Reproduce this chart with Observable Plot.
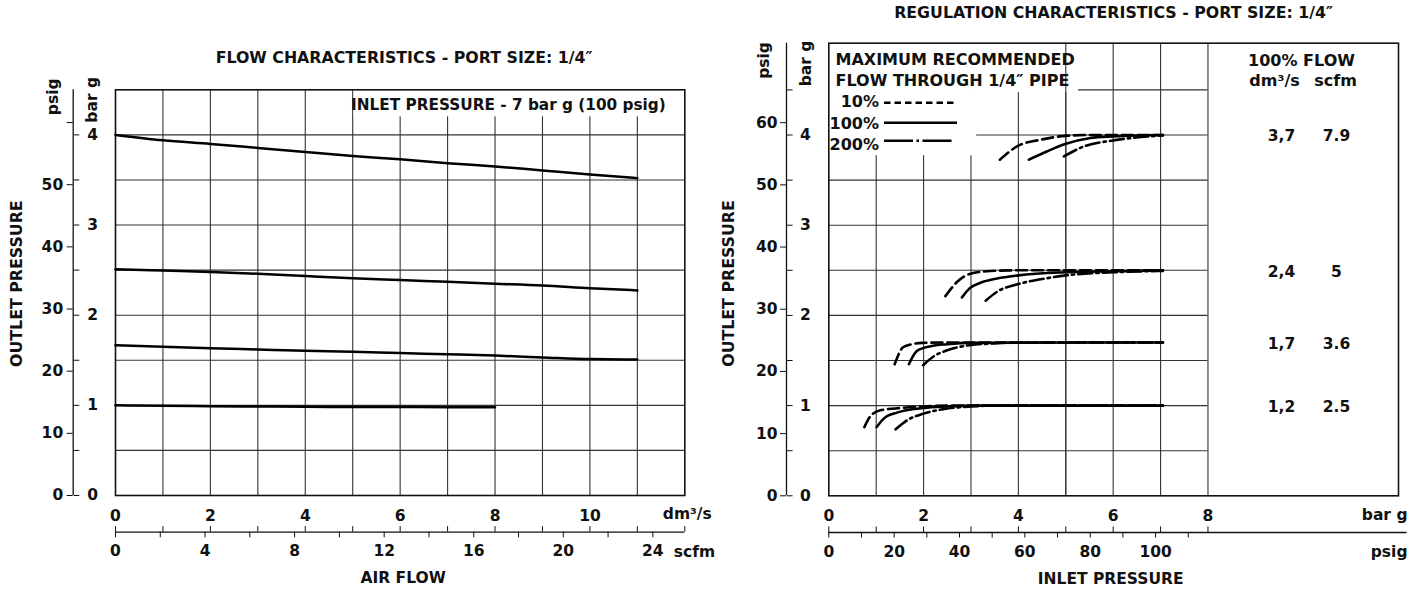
<!DOCTYPE html>
<html><head><meta charset="utf-8">
<script src="https://cdn.jsdelivr.net/npm/d3@7"></script>
<script src="https://cdn.jsdelivr.net/npm/@observablehq/plot@0.6"></script>
<style>
body{margin:0;background:#fff;}
#wrap{position:relative;width:1415px;height:592px;overflow:hidden;font-family:"DejaVu Sans",sans-serif;font-weight:bold;color:#111;}
#wrap svg{position:absolute;top:0;overflow:visible;}
</style></head><body><div id="wrap"></div>
<script>
// ---------- unit conversions ----------
const PSI_PER_BAR = 14.5038;
const SCFM_PER_DM3S = 2.1189;

// ---------- LEFT: flow characteristics (outlet bar g vs air flow dm3/s) ----------
const flowX = [0,1,2,3,4,5,6,7,8,9,10,11];
const flowOutlet4  = [4.00,3.94,3.90,3.855,3.81,3.765,3.73,3.685,3.65,3.605,3.56,3.52];
const flowOutlet25 = [2.51,2.495,2.48,2.46,2.435,2.41,2.39,2.37,2.35,2.33,2.30,2.275];
const flowOutlet17 = [1.667,1.650,1.634,1.620,1.606,1.595,1.580,1.567,1.552,1.532,1.513,1.508];
const flowXLow = [0,1,2,3,4,5,6,7,8];
const flowOutlet1  = [1.000,0.995,0.990,0.987,0.984,0.982,0.981,0.980,0.980];

const leftTitle = "FLOW CHARACTERISTICS - PORT SIZE: 1/4\u2033";
const inletNote = "INLET PRESSURE - 7 bar g (100 psig)";
const dmTickLabels = [0,2,4,6,8,10];
const scfmTicks = [0,2,4,6,8,10,12,14,16,18,20,22,24];
const scfmLabels = [0,4,8,12,16,20,24];
const psigTicksLeft = [0,10,20,30,40,50,60];
const psigLabelsLeft = [0,10,20,30,40,50];
const barTicksLeft = [0,0.5,1,1.5,2,2.5,3,3.5,4];

// ---------- RIGHT: regulation characteristics (outlet vs inlet, bar g) ----------
const regLevels = [4.0, 2.5, 1.7, 1.0];
const regFlowDm3 = ["3,7","2,4","1,7","1,2"];
const regFlowScfm = ["7.9","5","3.6","2.5"];
// [inlet bar, outlet bar] per level
const reg10 = [
  [[3.61,3.726],[3.97,3.873],[4.47,3.948],[4.99,3.99],[5.5,4.0],[7.05,4.0]],
  [[2.46,2.214],[2.71,2.373],[2.97,2.459],[3.41,2.492],[4.0,2.5],[7.05,2.5]],
  [[1.39,1.459],[1.58,1.651],[1.97,1.696],[2.5,1.70],[7.05,1.70]],
  [[0.75,0.762],[0.88,0.884],[1.09,0.948],[1.51,0.973],[2.0,0.99],[2.5,1.0],[7.05,1.0]]
];
const reg100 = [
  [[4.22,3.726],[4.61,3.82],[4.99,3.90],[5.52,3.967],[6.0,3.985],[7.05,4.0]],
  [[2.81,2.20],[2.97,2.30],[3.2,2.362],[3.55,2.41],[4.0,2.444],[5.0,2.478],[6.0,2.49],[7.05,2.5]],
  [[1.69,1.459],[1.86,1.607],[2.15,1.659],[2.5,1.681],[3.0,1.696],[7.05,1.70]],
  [[1.01,0.762],[1.16,0.856],[1.44,0.922],[2.0,0.973],[2.5,0.99],[3.0,1.0],[7.05,1.0]]
];
const reg200 = [
  [[4.96,3.763],[5.38,3.873],[6.0,3.94],[6.58,3.978],[7.05,3.995]],
  [[3.31,2.163],[3.55,2.262],[4.0,2.348],[4.47,2.40],[5.0,2.444],[6.0,2.478],[7.05,2.493]],
  [[1.99,1.448],[2.22,1.548],[2.5,1.614],[2.97,1.67],[3.5,1.69],[4.0,1.70],[7.05,1.70]],
  [[1.41,0.737],[1.65,0.837],[2.0,0.911],[2.5,0.967],[3.0,0.99],[3.5,1.0],[7.05,1.0]]
];
const rightTitle = "REGULATION CHARACTERISTICS - PORT SIZE: 1/4\u2033";
const legendHead = ["MAXIMUM RECOMMENDED", "FLOW THROUGH 1/4\u2033 PIPE"];
const legendNames = ["10%","100%","200%"];
const barTicksRightLabels = [0,2,4,6,8];
const barTicksRight = [0,1,2,3,4,5,6,7,8];
const psigTicksRight = [0,10,20,30,40,50,60,70,80,90,100,110];
const psigLabelsRight = [0,20,40,60,80,100];
const psigTicksRightY = [0,10,20,30,40,50,60];
const barTicksRightY = [0,0.5,1,1.5,2,2.5,3,3.5,4,4.5];

// ---------- styling ----------
const INK = "#111";
const GRID = "#333";
const baseStyle = {fontFamily:"'DejaVu Sans', sans-serif", fontWeight:"bold", fontSize:"15.5px", color:INK, background:"transparent", overflow:"visible"};
const DASH10 = "11,5", DASH200 = "14,4,2.5,4";
const TITLE = 15.8;

const wrap = document.getElementById("wrap");

// ===== LEFT PLOT =====
{
  const W = 700, ML = 115, MR = 15.7, MT = 89.3, MB = 97;
  const axisX = 72.7; // position of the vertical pressure axis line
  const rows = [
    ...flowX.map((x,i)=>({x, y:flowOutlet4[i], s:"4"})),
    ...flowX.map((x,i)=>({x, y:flowOutlet25[i], s:"2.5"})),
    ...flowX.map((x,i)=>({x, y:flowOutlet17[i], s:"1.7"})),
    ...flowXLow.map((x,i)=>({x, y:flowOutlet1[i], s:"1"}))
  ];
  const noteBox = [{x1:5.03, x2:12, y1:4.2, y2:4.5}];
  const plot = Plot.plot({
    width: W, height: 592, marginLeft: ML, marginRight: MR, marginTop: MT, marginBottom: MB,
    x: {domain:[0,12], label:null},
    y: {domain:[0,4.5], label:null},
    style: baseStyle,
    marks: [
      Plot.ruleX(d3.range(1,12), {stroke:GRID, strokeWidth:1.1}),
      Plot.ruleY(d3.range(0.5,4.5,0.5), {stroke:GRID, strokeWidth:1.1}),
      Plot.rect(noteBox, {x1:"x1", x2:"x2", y1:"y1", y2:"y2", fill:"white"}),
      Plot.text([inletNote], {frameAnchor:"top-right", textAnchor:"end", lineAnchor:"middle", dx:-19, dy:15, fontSize:15.3, fill:INK}),
      Plot.frame({stroke:INK, strokeWidth:1.6}),
      Plot.line(rows, {x:"x", y:"y", z:"s", stroke:"#000", strokeWidth:2.5, curve:"monotone-x"}),
      // vertical pressure axes
      Plot.ruleX([0], {y1:0, y2:4.5, dx: axisX-ML, stroke:INK, strokeWidth:1.3}),
      Plot.axisY(psigTicksLeft.map(p=>p/PSI_PER_BAR), {anchor:"left", dx: axisX-ML, tickSize:6, tickPadding:4, label:null,
        tickFormat: d => { const p = Math.round(d*PSI_PER_BAR); return psigLabelsLeft.includes(p) ? String(p) : ""; }}),
      Plot.axisY(barTicksLeft, {anchor:"right", dx: axisX-(W-MR), tickSize:5.6, tickPadding:8.5, label:null,
        tickFormat: d => Number.isInteger(d) ? String(d) : ""}),
      Plot.text(["psig"], {frameAnchor:"top-left", rotate:-90, textAnchor:"middle", lineAnchor:"middle", dx:-62, dy:7, fontSize:15.5, fill:INK}),
      Plot.text(["bar g"], {frameAnchor:"top-left", rotate:-90, textAnchor:"middle", lineAnchor:"middle", dx:-23, dy:10, fontSize:15.5, fill:INK}),
      Plot.text(["OUTLET PRESSURE"], {frameAnchor:"left", rotate:-90, textAnchor:"middle", lineAnchor:"middle", dx:-99, dy:-9, fontSize:15.8, fill:INK}),
      // horizontal flow axes
      Plot.axisX(dmTickLabels, {anchor:"bottom", tickSize:0, tickPadding:14, label:null, tickFormat:d=>String(d)}),
      Plot.text(["dm\u00b3/s"], {frameAnchor:"bottom-right", textAnchor:"start", lineAnchor:"middle", dx:-22, dy:19, fontSize:15.5, fill:INK}),
      Plot.ruleY([0], {x1:0, x2:12, dy:36.7, stroke:INK, strokeWidth:1.3}),
      Plot.axisX(d3.range(0,13), {anchor:"bottom", dy:36.7-5.6, tickSize:5.6, label:null, tickFormat:()=>""}),
      Plot.axisX(scfmTicks.map(s=>s/SCFM_PER_DM3S), {anchor:"bottom", dy:36.7, tickSize:5.6, tickPadding:7.5, label:null,
        tickFormat: d => { const s = Math.round(d*SCFM_PER_DM3S); return scfmLabels.includes(s) ? String(s) : ""; }}),
      Plot.text(["scfm"], {frameAnchor:"bottom-right", textAnchor:"start", lineAnchor:"middle", dx:-11, dy:56.7, fontSize:15.5, fill:INK}),
      Plot.text(["AIR FLOW"], {frameAnchor:"bottom", lineAnchor:"middle", dx:3, dy:83, fontSize:15.5, fill:INK}),
      Plot.text([leftTitle], {frameAnchor:"top", lineAnchor:"middle", dx:4, dy:-32, fontSize:TITLE, fill:INK})
    ]
  });
  plot.style.left = "0px";
  wrap.appendChild(plot);
}

// ===== RIGHT PLOT =====
{
  const W = 715, ML = 128.3, MR = 17, MT = 42.7, MB = 96.7;
  const axisX = 86; // local position of pressure axis line
  const rows = [];
  [["10%",reg10],["100%",reg100],["200%",reg200]].forEach(([f,sets]) => {
    sets.forEach((pts,li) => pts.forEach(([x,y]) => rows.push({x, y, level:li, flow:f})));
  });
  const legendBoxes = [{x1:0, x2:5.27, y1:4.47, y2:5.018}, {x1:0, x2:3.12, y1:3.77, y2:4.47}];
  const tableRows = regLevels.map((lv,i)=>({lv, dm:regFlowDm3[i], sc:regFlowScfm[i]}));
  const plot = Plot.plot({
    width: W, height: 592, marginLeft: ML, marginRight: MR, marginTop: MT, marginBottom: MB,
    x: {domain:[0,12.02], label:null},
    y: {domain:[0,5.018], label:null},
    style: baseStyle,
    marks: [
      Plot.ruleX(d3.range(1,9), {stroke:GRID, strokeWidth:1.1}),
      Plot.ruleY(d3.range(0.5,5,0.5), {x1:0, x2:8, stroke:GRID, strokeWidth:1.1}),
      Plot.rect(legendBoxes, {x1:"x1", x2:"x2", y1:"y1", y2:"y2", fill:"white"}),
      Plot.ruleX([5], {stroke:GRID, strokeWidth:1.1}),
      Plot.frame({stroke:INK, strokeWidth:1.6}),
      Plot.line(rows.filter(d=>d.flow==="10%"), {x:"x", y:"y", z:"level", stroke:"#000", strokeWidth:2.6, strokeDasharray:DASH10, curve:"monotone-x"}),
      Plot.line(rows.filter(d=>d.flow==="100%"), {x:"x", y:"y", z:"level", stroke:"#000", strokeWidth:2.6, curve:"monotone-x"}),
      Plot.line(rows.filter(d=>d.flow==="200%"), {x:"x", y:"y", z:"level", stroke:"#000", strokeWidth:2.6, strokeDasharray:DASH200, curve:"monotone-x"}),
      // legend heading
      Plot.text([legendHead[0]], {frameAnchor:"top-left", textAnchor:"start", lineAnchor:"middle", dx:6.7, dy:16.5, fontSize:16, fill:INK}),
      Plot.text([legendHead[1]], {frameAnchor:"top-left", textAnchor:"start", lineAnchor:"middle", dx:6.7, dy:37.5, fontSize:16, fill:INK}),
      // 100% flow table
      Plot.text(["100% FLOW"], {frameAnchor:"top-right", textAnchor:"middle", lineAnchor:"middle", dx:-97, dy:17.3, fontSize:16, fill:INK}),
      Plot.text(["dm\u00b3/s"], {frameAnchor:"top-right", textAnchor:"middle", lineAnchor:"middle", dx:-124, dy:38, fontSize:16, fill:INK}),
      Plot.text(["scfm"], {frameAnchor:"top-right", textAnchor:"middle", lineAnchor:"middle", dx:-63, dy:38, fontSize:16, fill:INK}),
      Plot.text(tableRows, {y:"lv", text:"dm", frameAnchor:"right", textAnchor:"middle", lineAnchor:"middle", dx:-117, dy:1.5, fontSize:15.5, fill:INK}),
      Plot.text(tableRows, {y:"lv", text:"sc", frameAnchor:"right", textAnchor:"middle", lineAnchor:"middle", dx:-62, dy:1.5, fontSize:15.5, fill:INK}),
      // vertical pressure axes
      Plot.ruleX([0], {y1:0, y2:5.018, dx: axisX-ML, stroke:INK, strokeWidth:1.3}),
      Plot.axisY(psigTicksRightY.map(p=>p/PSI_PER_BAR), {anchor:"left", dx: axisX-ML, tickSize:6, tickPadding:3, label:null,
        tickFormat: d => String(Math.round(d*PSI_PER_BAR))}),
      Plot.axisY(barTicksRightY, {anchor:"right", dx: axisX-(W-MR), tickSize:5.6, tickPadding:8, label:null,
        tickFormat: d => (Number.isInteger(d) && d < 5) ? String(d) : ""}),
      Plot.text(["psig"], {frameAnchor:"top-left", rotate:-90, textAnchor:"middle", lineAnchor:"middle", dx:-64.8, dy:17.3, fontSize:15.5, fill:INK}),
      Plot.text(["bar g"], {frameAnchor:"top-left", rotate:-90, textAnchor:"middle", lineAnchor:"middle", dx:-22.8, dy:20.3, fontSize:15.5, fill:INK}),
      Plot.text(["OUTLET PRESSURE"], {frameAnchor:"left", rotate:-90, textAnchor:"middle", lineAnchor:"middle", dx:-100.3, dy:14, fontSize:15.8, fill:INK}),
      // horizontal inlet axes
      Plot.axisX(barTicksRightLabels, {anchor:"bottom", tickSize:0, tickPadding:14, label:null, tickFormat:d=>String(d)}),
      Plot.text(["bar g"], {frameAnchor:"bottom-right", textAnchor:"end", lineAnchor:"middle", dx:9, dy:19, fontSize:15.5, fill:INK}),
      Plot.ruleY([0], {x1:0, x2:12.2, dy:36.7, stroke:INK, strokeWidth:1.3}),
      Plot.axisX(barTicksRight, {anchor:"bottom", dy:36.7-5.6, tickSize:5.6, label:null, tickFormat:()=>""}),
      Plot.axisX(psigTicksRight.map(p=>p/PSI_PER_BAR), {anchor:"bottom", dy:36.7, tickSize:5.6, tickPadding:7.5, label:null,
        tickFormat: d => { const p = Math.round(d*PSI_PER_BAR); return psigLabelsRight.includes(p) ? String(p) : ""; }}),
      Plot.text(["psig"], {frameAnchor:"bottom-right", textAnchor:"end", lineAnchor:"middle", dx:9, dy:56.7, fontSize:15.5, fill:INK}),
      Plot.text(["INLET PRESSURE"], {frameAnchor:"bottom", lineAnchor:"middle", dx:-3, dy:83, fontSize:15.5, fill:INK}),
      Plot.text([rightTitle], {frameAnchor:"top", lineAnchor:"middle", dx:0, dy:-30.7, fontSize:TITLE, fill:INK})
    ]
  });
  plot.style.left = "700px";
  wrap.appendChild(plot);
}

// ===== legend samples for the right chart (added over the plot) =====
{
  const svg = d3.select(wrap).append("svg")
    .attr("width",140).attr("height",70)
    .style("left","828px").style("top","88px");
  const entries = [
    {name:legendNames[0], ty:13.7, ly:14.7, dash:"6.5,4", x2:127},
    {name:legendNames[1], ty:35, ly:34.7, dash:null, x2:129},
    {name:legendNames[2], ty:56, ly:52.7, dash:"29,3.5,2.5,3.5", x2:124}
  ];
  entries.forEach(e => {
    svg.append("text").text(e.name).attr("x",51).attr("y",e.ty)
      .attr("text-anchor","end").attr("dominant-baseline","central")
      .attr("font-family","'DejaVu Sans', sans-serif").attr("font-weight","bold").attr("font-size",16).attr("fill",INK);
    const l = svg.append("line").attr("x1",56).attr("x2",e.x2).attr("y1",e.ly).attr("y2",e.ly)
      .attr("stroke","#000").attr("stroke-width",2.6);
    if (e.dash) l.attr("stroke-dasharray", e.dash);
  });
}
</script></body></html>
